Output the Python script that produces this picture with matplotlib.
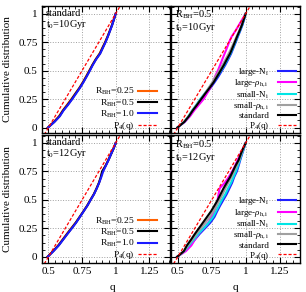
import numpy as np
import matplotlib
matplotlib.use('Agg')
import matplotlib.pyplot as plt
from matplotlib.ticker import MultipleLocator

plt.rcParams['font.family'] = ['Liberation Serif', 'DejaVu Serif']
plt.rcParams['mathtext.fontset'] = 'custom'
plt.rcParams['mathtext.rm'] = 'Liberation Serif'
plt.rcParams['mathtext.it'] = 'Liberation Serif:italic'
plt.rcParams['font.size'] = 8

# niveles de la distribucion acumulada (comunes a todas las curvas)
cdf = [0.0, 0.05, 0.10, 0.15, 0.20, 0.25, 0.30, 0.35, 0.40, 0.45, 0.50,
       0.55, 0.60, 0.65, 0.70, 0.75, 0.80, 0.85, 0.90, 0.95, 1.0]

# panel 1: standard, t0=10Gyr
q_r025_10 = [0.495, 0.540, 0.578, 0.606, 0.638, 0.670, 0.700, 0.730, 0.756, 0.780, 0.803,
             0.826, 0.851, 0.880, 0.900, 0.921, 0.939, 0.956, 0.972, 0.986, 1.0]
q_r050_10 = [0.496, 0.543, 0.582, 0.609, 0.643, 0.674, 0.703, 0.733, 0.759, 0.783, 0.806,
             0.828, 0.853, 0.883, 0.903, 0.923, 0.941, 0.957, 0.973, 0.987, 1.0]
q_r100_10 = [0.497, 0.545, 0.585, 0.612, 0.646, 0.677, 0.706, 0.735, 0.761, 0.785, 0.808,
             0.830, 0.855, 0.885, 0.905, 0.925, 0.942, 0.958, 0.974, 0.987, 1.0]

# panel 2: R_BH=0.5, t0=10Gyr
q_lN_10 = [0.497, 0.550, 0.587, 0.615, 0.648, 0.680, 0.710, 0.742, 0.772, 0.800, 0.825,
           0.850, 0.872, 0.893, 0.910, 0.927, 0.943, 0.960, 0.976, 0.989, 1.0]
q_lrho_10 = [0.497, 0.550, 0.590, 0.620, 0.655, 0.690, 0.715, 0.740, 0.760, 0.775, 0.795,
             0.812, 0.828, 0.845, 0.862, 0.878, 0.897, 0.925, 0.950, 0.975, 1.0]
q_sN_10 = [0.497, 0.546, 0.578, 0.605, 0.636, 0.665, 0.698, 0.730, 0.762, 0.790, 0.818,
           0.843, 0.866, 0.888, 0.906, 0.923, 0.940, 0.957, 0.974, 0.987, 1.0]
q_srho_10 = [0.497, 0.545, 0.580, 0.608, 0.640, 0.670, 0.700, 0.728, 0.755, 0.780, 0.805,
             0.830, 0.852, 0.875, 0.895, 0.915, 0.933, 0.952, 0.970, 0.985, 1.0]
q_std_10 = [0.497, 0.548, 0.582, 0.610, 0.642, 0.672, 0.703, 0.735, 0.765, 0.790, 0.815,
            0.840, 0.862, 0.885, 0.903, 0.920, 0.937, 0.955, 0.972, 0.986, 1.0]

# panel 3: standard, t0=12Gyr
q_r025_12 = [0.493, 0.534, 0.572, 0.604, 0.636, 0.668, 0.702, 0.731, 0.760, 0.788, 0.812,
             0.837, 0.857, 0.875, 0.890, 0.902, 0.924, 0.945, 0.964, 0.983, 1.0]
q_r050_12 = [0.494, 0.536, 0.575, 0.607, 0.639, 0.672, 0.704, 0.733, 0.761, 0.789, 0.813,
             0.838, 0.858, 0.876, 0.889, 0.899, 0.925, 0.946, 0.965, 0.984, 1.0]
q_r100_12 = [0.495, 0.538, 0.577, 0.609, 0.641, 0.674, 0.706, 0.734, 0.762, 0.790, 0.814,
             0.839, 0.859, 0.877, 0.893, 0.907, 0.927, 0.947, 0.965, 0.984, 1.0]

# panel 4: R_BH=0.5, t0=12Gyr
q_lN_12 = [0.497, 0.550, 0.590, 0.625, 0.660, 0.700, 0.740, 0.770, 0.790, 0.812, 0.836,
           0.860, 0.880, 0.900, 0.915, 0.935, 0.948, 0.960, 0.973, 0.987, 1.0]
q_lrho_12 = [0.495, 0.560, 0.600, 0.625, 0.652, 0.690, 0.725, 0.748, 0.768, 0.785, 0.793,
             0.800, 0.808, 0.845, 0.875, 0.900, 0.922, 0.940, 0.960, 0.980, 1.0]
q_sN_12 = [0.496, 0.548, 0.582, 0.617, 0.650, 0.690, 0.728, 0.760, 0.782, 0.803, 0.825,
           0.850, 0.870, 0.892, 0.910, 0.928, 0.943, 0.957, 0.970, 0.985, 1.0]
q_srho_12 = [0.495, 0.546, 0.575, 0.607, 0.637, 0.670, 0.703, 0.735, 0.762, 0.786, 0.808,
             0.830, 0.850, 0.872, 0.895, 0.915, 0.934, 0.953, 0.967, 0.982, 1.0]
q_std_12 = [0.495, 0.545, 0.567, 0.597, 0.625, 0.655, 0.685, 0.715, 0.745, 0.770, 0.794,
            0.815, 0.836, 0.860, 0.885, 0.905, 0.925, 0.948, 0.963, 0.980, 1.0]

# P_4(q)
q_p4 = [0.45, 1.05]
p4 = [-0.1, 1.1]

xticks = [0.5, 0.75, 1.0, 1.25]
xtlabels = ['0.5', '0.75', '1', '1.25']
yticks = [0, 0.25, 0.5, 0.75, 1.0]
ytlabels = ['0', '0.25', '0.5', '0.75', '1']

fig = plt.figure(figsize=(3.06, 2.92), dpi=100)
W, H = 306.0, 292.0
ax_tl = fig.add_axes([41.7/W, 1-133.3/H, 127.8/W, 127.6/H])
ax_tr = fig.add_axes([171.0/W, 1-133.3/H, 129.0/W, 127.6/H])
ax_bl = fig.add_axes([41.7/W, 1-262.5/H, 127.8/W, 127.5/H])
ax_br = fig.add_axes([171.0/W, 1-262.5/H, 129.0/W, 127.5/H])

lw = 1.5
for ax, qa, qb, qc in [(ax_tl, q_r025_10, q_r050_10, q_r100_10),
                       (ax_bl, q_r025_12, q_r050_12, q_r100_12)]:
    ax.plot(qa, cdf, color='#ff6000', lw=lw, label=r'R$_{\rm BH}$=0.25')
    ax.plot(qb, cdf, color='black', lw=lw, label=r'R$_{\rm BH}$=0.5')
    ax.plot(qc, cdf, color='#1a1aff', lw=lw, label=r'R$_{\rm BH}$=1.0')
    ax.plot(q_p4, p4, color='red', lw=0.9, ls=(0, (2.5, 1.5)), label=r'P$_4$(q)')
    ax.legend(loc='lower right', bbox_to_anchor=(1 - 11/128., 0.0), markerfirst=False,
              frameon=False, fontsize=6.8, handlelength=2.0, handletextpad=0.35,
              labelspacing=0.0, borderaxespad=0.05, borderpad=0.1)

for ax, a, b, c, d, e in [(ax_tr, q_lN_10, q_lrho_10, q_sN_10, q_srho_10, q_std_10),
                          (ax_br, q_lN_12, q_lrho_12, q_sN_12, q_srho_12, q_std_12)]:
    ax.plot(a, cdf, color='#2020ff', lw=lw, label=r'large-N$_{\rm i}$')
    ax.plot(b, cdf, color='#ff00ff', lw=lw, label=r'large-$\rho_{\rm h,i}$')
    ax.plot(c, cdf, color='#00e5e5', lw=lw, label=r'small-N$_{\rm i}$')
    ax.plot(d, cdf, color='#a0a0a0', lw=lw, label=r'small-$\rho_{\rm h,i}$')
    ax.plot(e, cdf, color='black', lw=lw, label='standard')
    ax.plot(q_p4, p4, color='red', lw=0.9, ls=(0, (2.5, 1.5)), label=r'P$_4$(q)')
    ax.legend(loc='lower right', bbox_to_anchor=(1 - 3/129., 0.0), markerfirst=False,
              frameon=False, fontsize=6.5, handlelength=2.0, handletextpad=1.0,
              labelspacing=0.0, borderaxespad=0.05, borderpad=0.05)

texts = {ax_tl: 'standard\nt$_0$=10Gyr', ax_tr: r'R$_{\rm BH}$=0.5' + '\nt$_0$=10Gyr',
         ax_bl: 'standard\nt$_0$=12Gyr', ax_br: r'R$_{\rm BH}$=0.5' + '\nt$_0$=12Gyr'}

for ax in [ax_tl, ax_tr, ax_bl, ax_br]:
    ax.set_xlim(0.45, 1.4)
    ax.set_ylim(-0.05, 1.07)
    ax.set_xticks(xticks)
    ax.set_yticks(yticks)
    ax.xaxis.set_minor_locator(MultipleLocator(0.05))
    ax.yaxis.set_minor_locator(MultipleLocator(0.0625))
    ax.tick_params(which='both', direction='in', top=True, right=True)
    ax.tick_params(which='major', length=4, width=0.8, pad=3)
    ax.tick_params(which='minor', length=2, width=0.6)
    ax.grid(True, which='major', color='#a0a0a0', ls=':', lw=0.7)
    for s in ax.spines.values():
        s.set_linewidth(1.0)
    ax.text(0.03, 0.975, texts[ax], transform=ax.transAxes, va='top', ha='left',
            fontsize=7.5, linespacing=1.0)

for ax in [ax_tl, ax_tr]:
    ax.set_xticklabels([])
for ax in [ax_bl, ax_br]:
    ax.set_xticklabels(xtlabels)
for ax in [ax_tr, ax_br]:
    ax.set_yticklabels([])
for ax in [ax_tl, ax_bl]:
    ax.set_yticklabels(ytlabels)

fig.text(8/W, 1-69/H, 'Cumulative distribution', rotation=90, ha='center', va='center', fontsize=8)
fig.text(8/W, 1-199/H, 'Cumulative distribution', rotation=90, ha='center', va='center', fontsize=8)
fig.text(112/W, 1-287/H, 'q', ha='center', va='center', fontsize=8)
fig.text(235/W, 1-287/H, 'q', ha='center', va='center', fontsize=8)

fig.savefig('out.png', dpi=100)
